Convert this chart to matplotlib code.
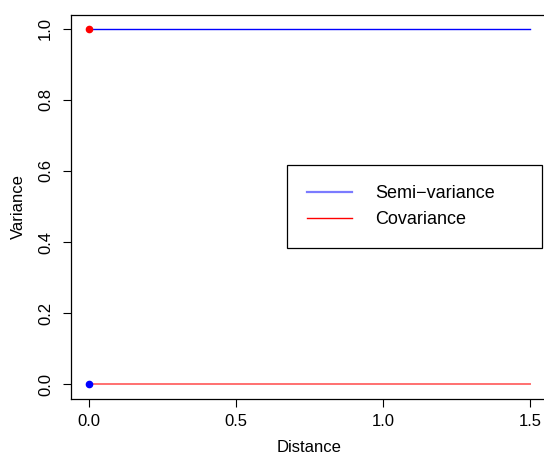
import matplotlib
matplotlib.use('Agg')
import matplotlib.pyplot as plt

plt.rcParams['font.family'] = ['Liberation Sans', 'DejaVu Sans']

# distances and values
distance = [0.0, 1.5]
semivariance = [1.0, 1.0]
covariance = [0.0, 0.0]
dist0 = [0.0]
semivar0 = [0.0]
cov0 = [1.0]
xticks = [0.0, 0.5, 1.0, 1.5]
yticks = [0.0, 0.2, 0.4, 0.6, 0.8, 1.0]

W, H = 544, 455
fig = plt.figure(figsize=(W / 100, H / 100), dpi=100)
ax = fig.add_axes([71.4 / W, 1 - 398.5 / H, (547.6 - 71.4) / W, (398.5 - 14.5) / H])

ax.plot(distance, semivariance, color='#0000ff', lw=1.0)
ax.plot(distance, covariance, color='#ff7070', lw=1.4)
ax.plot(dist0, cov0, 'o', color='#ff0000', ms=4.5)
ax.plot(dist0, semivar0, 'o', color='#0000ff', ms=4.5)

ax.set_xlim(-0.06, 1.56)
ax.set_ylim(-0.04, 1.04)
ax.set_xticks(xticks)
ax.set_xticklabels(['0.0', '0.5', '1.0', '1.5'])
ax.set_yticks(yticks)
ax.set_yticklabels(['0.0', '0.2', '0.4', '0.6', '0.8', '1.0'])
ax.tick_params(axis='both', direction='out', length=5.6, width=0.8, labelsize=12)
ax.tick_params(axis='x', pad=5.2)
ax.tick_params(axis='y', pad=7.5)
plt.setp(ax.get_yticklabels(), rotation=90, va='center')
for s in ax.spines.values():
    s.set_linewidth(0.9)

fig.text(309.5 / W, 1 - 447 / H, 'Distance', ha='center', va='center', fontsize=12)
fig.text(18 / W, 1 - 206.5 / H, 'Variance', ha='center', va='center', rotation=90, fontsize=12)

h1, = ax.plot([], [], color='#7b7bff', lw=1.6)
h2, = ax.plot([], [], color='#ff0000', lw=1.0)
leg = ax.legend([h1, h2], ['Semi\u2212variance', 'Covariance'],
                loc='upper left', mode='expand',
                bbox_to_anchor=(287 / W, 1 - 247.3 / H, 254.7 / W, 82.3 / H),
                bbox_transform=fig.transFigure, borderaxespad=0,
                fontsize=13, fancybox=False, framealpha=1, edgecolor='black',
                handlelength=2.5, handletextpad=1.26, borderpad=1.1,
                labelspacing=0.5)
leg.get_frame().set_linewidth(0.9)

fig.savefig('out.png', dpi=100)
